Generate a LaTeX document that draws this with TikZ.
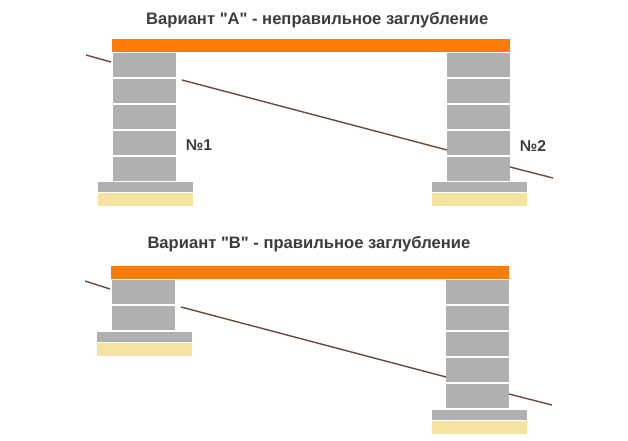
\documentclass[tikz,border=0pt]{standalone}
\usepackage{fontspec}
\setmainfont{Liberation Sans}[Ligatures=TeXOff]
\definecolor{brick}{HTML}{B0B0B0}
\definecolor{beam}{HTML}{FF7B05}
\definecolor{sand}{HTML}{F6E3A1}
\definecolor{soil}{HTML}{6B4A3A}
\definecolor{ink}{HTML}{3C3C3E}
\tikzset{
  x=1pt,y=-1pt,
  brickfill/.style={fill=brick,draw=none},
  beamfill/.style={fill=beam,draw=none},
  sandfill/.style={fill=sand,draw=none},
  ground/.style={draw=soil,line width=1.4pt},
  titletext/.style={font=\bfseries\fontsize{16.6}{19}\selectfont,text=ink,inner sep=0pt,anchor=west},
  numtext/.style={font=\bfseries\fontsize{15.7}{18}\selectfont,text=ink,inner sep=0pt,anchor=center}
}
\begin{document}
\begin{tikzpicture}
\useasboundingbox (0,0) rectangle (628,440);
\fill[white] (0,0) rectangle (628,440);
% Variant A
\node[titletext] (titleA) at (146,20) {Вариант "А" - неправильное заглубление};
\fill[beamfill] (112,39) rectangle (510,52);
\foreach \y in {53,79,105,131,157}{
  \fill[brickfill] (113,\y) rectangle (176,\y+24);
  \fill[brickfill] (447,\y) rectangle (510,\y+24);
}
\fill[brickfill] (98,182) rectangle (193,192);
\fill[sandfill] (98,193) rectangle (193,206);
\fill[brickfill] (432,182) rectangle (527,192);
\fill[sandfill] (432,193) rectangle (527,206);
\draw[ground] (86,55) -- (111,62);
\draw[ground] (182,80) -- (447,150);
\draw[ground] (510,167) -- (553,178);
\node[numtext] (numA) at (199,145) {№1};
\node[numtext] (numB) at (533,146) {№2};
% Variant B
\node[titletext] (titleB) at (147.3,244) {Вариант "В" - правильное заглубление};
\fill[beamfill] (111,266) rectangle (509,279);
\foreach \y in {280,306}{
  \fill[brickfill] (112,\y) rectangle (175,\y+24);
}
\foreach \y in {280,306,332,358,384}{
  \fill[brickfill] (446,\y) rectangle (509,\y+24);
}
\fill[brickfill] (97,332) rectangle (192,342);
\fill[sandfill] (97,343) rectangle (192,356);
\fill[brickfill] (432,410) rectangle (527,420);
\fill[sandfill] (432,421) rectangle (527,434);
\draw[ground] (85,281) -- (110,289);
\draw[ground] (181,307) -- (446,377);
\draw[ground] (509,394) -- (552,405);
\end{tikzpicture}
\end{document}
